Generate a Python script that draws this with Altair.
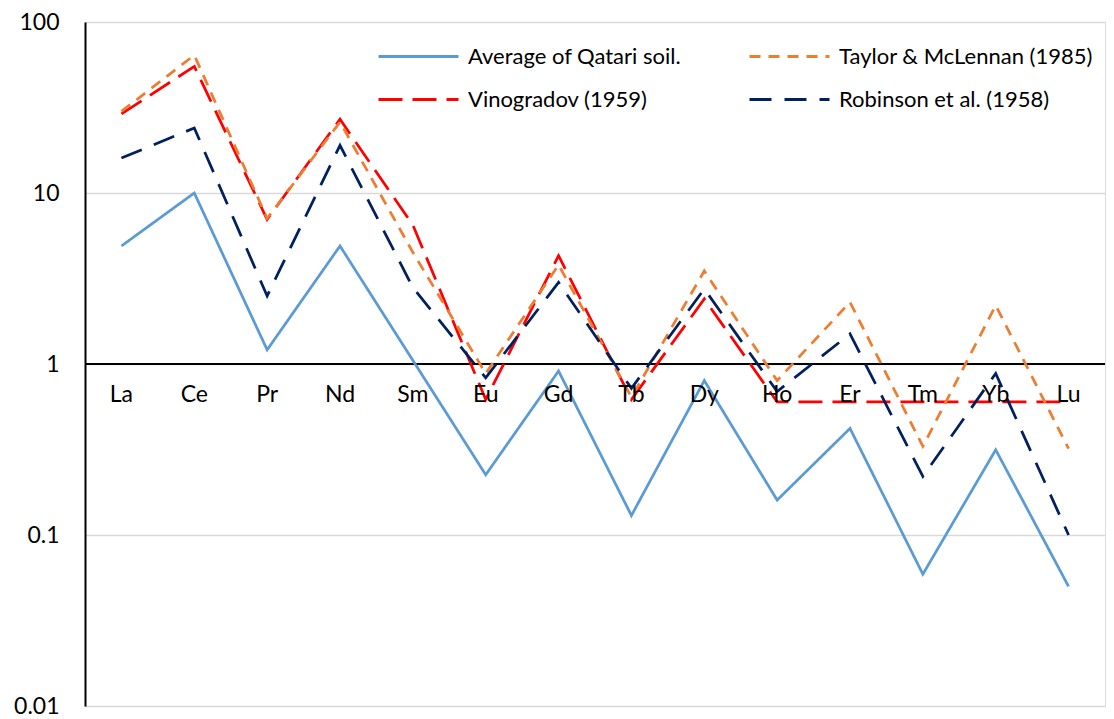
import altair as alt
import pandas as pd

elements = ["La", "Ce", "Pr", "Nd", "Sm", "Eu", "Gd", "Tb", "Dy", "Ho", "Er", "Tm", "Yb", "Lu"]
series_names = ["Average of Qatari soil.", "Vinogradov (1959)", "Taylor & McLennan (1985)", "Robinson et al. (1958)"]
qatari = [4.9, 10.0, 1.21, 4.9, 1.05, 0.225, 0.91, 0.13, 0.8, 0.16, 0.42, 0.059, 0.315, 0.05]
vinogradov = [29, 55, 7.0, 27, 6.5, 0.62, 4.3, 0.62, 2.4, 0.6, 0.6, 0.6, 0.6, 0.6]
taylor = [30, 64, 7.1, 26, 4.5, 0.88, 3.8, 0.64, 3.5, 0.8, 2.3, 0.33, 2.2, 0.32]
robinson = [16, 24, 2.5, 19, 2.8, 0.83, 3.0, 0.72, 2.75, 0.69, 1.5, 0.22, 0.88, 0.1]
colors = ["#5b9bd5", "#ff0000", "#ed7d31", "#002060"]
dashes = [[1, 0], [24, 10], [11, 8], [22, 13]]
y_ticks = [0.01, 0.1, 1, 10, 100]

rows = []
for name, vals in zip(series_names, [qatari, vinogradov, taylor, robinson]):
    for el, v in zip(elements, vals):
        rows.append({"element": el, "value": v, "series": name})
df = pd.DataFrame(rows)
labels_df = pd.DataFrame({"element": elements})

FONT = "Lato"
FS = 23

legend = alt.Legend(
    title=None, orient="none", legendX=292, legendY=22, columns=2,
    symbolType="stroke", symbolSize=6400, symbolStrokeWidth=3,
    labelFont=FONT, labelFontSize=22, labelColor="#000000", labelLimit=500,
    labelOffset=8, columnPadding=66, rowPadding=18, clipHeight=25,
)

x_enc = alt.X("element:N", sort=elements, axis=None)

lines = alt.Chart(df).mark_line(strokeWidth=2.75).encode(
    x=x_enc,
    y=alt.Y("value:Q", scale=alt.Scale(type="log", domain=[0.01, 100], nice=False),
            axis=alt.Axis(values=y_ticks, format="~g", title=None, ticks=False,
                          labelFont=FONT, labelFontSize=FS, labelColor="#000000",
                          labelPadding=26, domainColor="#000000", domainWidth=2,
                          grid=True, gridColor="#d9d9d9", gridWidth=1.5)),
    color=alt.Color("series:N", scale=alt.Scale(domain=series_names, range=colors), legend=legend),
    strokeDash=alt.StrokeDash("series:N", scale=alt.Scale(domain=series_names, range=dashes), legend=legend),
    order=alt.Order("x_order:Q"),
).transform_calculate(x_order="indexof(%s, datum.element)" % str(elements))

one_line = alt.Chart(labels_df).mark_rule(color="#000000", strokeWidth=2).encode(y=alt.datum(1))

x_labels = alt.Chart(labels_df).mark_text(font=FONT, fontSize=FS, color="#000000", dy=31).encode(
    x=x_enc, y=alt.datum(1), text="element:N")

chart = alt.layer(one_line, lines, x_labels).properties(
    width=1020, height=684,
    autosize=alt.AutoSizeParams(type="none"),
    padding={"left": 77, "top": 14, "right": 1, "bottom": 9},
).configure_view(stroke=None).configure(background="#ffffff")

chart.save("out.html", embed_options={"renderer": "svg", "actions": False})
